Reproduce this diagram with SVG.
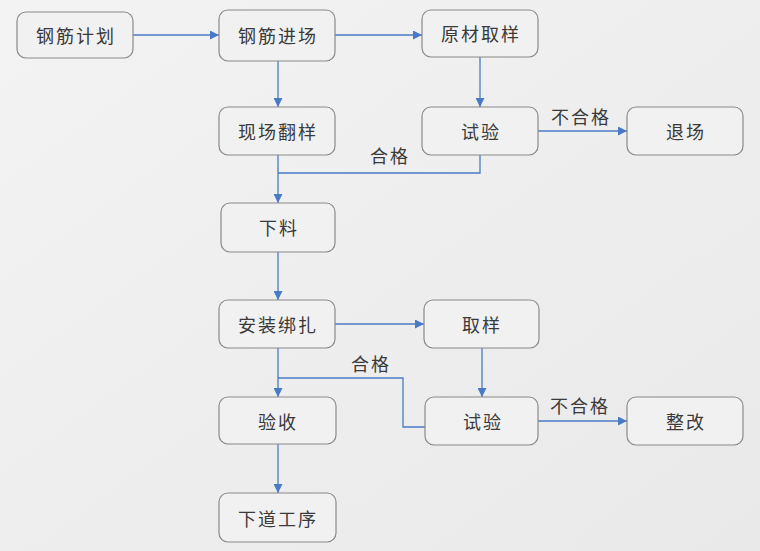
<svg xmlns="http://www.w3.org/2000/svg" width="760" height="551" viewBox="0 0 760 551">
<defs>
<linearGradient id="bg" x1="0" y1="0" x2="1" y2="1">
<stop offset="0" stop-color="#f3f3f3"/>
<stop offset="1" stop-color="#e9e9e9"/>
</linearGradient>
<marker id="ah" viewBox="0 0 10 10" refX="10" refY="5" markerWidth="9" markerHeight="9" markerUnits="userSpaceOnUse" orient="auto">
<path d="M0,0 L10,5 L0,10 Z" fill="#4a7ac4"/>
</marker>
<style>
.box{fill:#f1f1f1;stroke:#8a8a8a;stroke-width:1.2}
.t{font-family:"Noto Sans CJK SC","Noto Sans CJK JP",sans-serif;font-size:18px;letter-spacing:2px;fill:#3a3a3a;text-anchor:middle;dominant-baseline:central}
.c{fill:none;stroke:#4a7ac4;stroke-width:1.3}
.a{marker-end:url(#ah)}
</style>
</defs>
<rect width="760" height="551" fill="url(#bg)"/>
<g id="connectors">
<path class="c a" d="M133,35 H219"/>
<path class="c a" d="M335,35 H422"/>
<path class="c a" d="M278,61 V107"/>
<path class="c a" d="M480,57 V107"/>
<path class="c a" d="M538,131 H627"/>
<path class="c" d="M480,155 V173 H278"/>
<path class="c a" d="M278,155 V203"/>
<path class="c a" d="M278,252 V300"/>
<path class="c a" d="M335,324 H424"/>
<path class="c a" d="M482,348 V397"/>
<path class="c" d="M425,427 H403 V378 H278"/>
<path class="c a" d="M278,348 V397"/>
<path class="c a" d="M538,421 H627"/>
<path class="c a" d="M278,444 V493"/>
<text class="t" x="390" y="155">合格</text>
<text class="t" x="581" y="116">不合格</text>
<text class="t" x="371" y="363">合格</text>
<text class="t" x="580" y="405">不合格</text>
</g>
<g id="n1"><rect class="box" x="17" y="12" width="116" height="46" rx="9"/><text class="t" x="76" y="35">钢筋计划</text></g>
<g id="n2"><rect class="box" x="219" y="10" width="116" height="51" rx="9"/><text class="t" x="278" y="35">钢筋进场</text></g>
<g id="n3"><rect class="box" x="422" y="10" width="116" height="47" rx="9"/><text class="t" x="481" y="33">原材取样</text></g>
<g id="n4"><rect class="box" x="219" y="107" width="116" height="48" rx="9"/><text class="t" x="278" y="131">现场翻样</text></g>
<g id="n5"><rect class="box" x="422" y="107" width="116" height="48" rx="9"/><text class="t" x="481" y="131">试验</text></g>
<g id="n6"><rect class="box" x="627" y="107" width="116" height="48" rx="9"/><text class="t" x="686" y="131">退场</text></g>
<g id="n7"><rect class="box" x="221" y="203" width="114" height="49" rx="9"/><text class="t" x="279" y="227">下料</text></g>
<g id="n8"><rect class="box" x="219" y="300" width="116" height="48" rx="9"/><text class="t" x="278" y="324">安装绑扎</text></g>
<g id="n9"><rect class="box" x="424" y="300" width="115" height="48" rx="9"/><text class="t" x="482" y="324">取样</text></g>
<g id="n10"><rect class="box" x="219" y="397" width="117" height="47" rx="9"/><text class="t" x="278" y="421">验收</text></g>
<g id="n11"><rect class="box" x="425" y="397" width="113" height="48" rx="9"/><text class="t" x="483" y="421">试验</text></g>
<g id="n12"><rect class="box" x="627" y="397" width="116" height="48" rx="9"/><text class="t" x="686" y="421">整改</text></g>
<g id="n13"><rect class="box" x="219" y="493" width="117" height="49" rx="9"/><text class="t" x="278" y="518">下道工序</text></g>
</svg>
